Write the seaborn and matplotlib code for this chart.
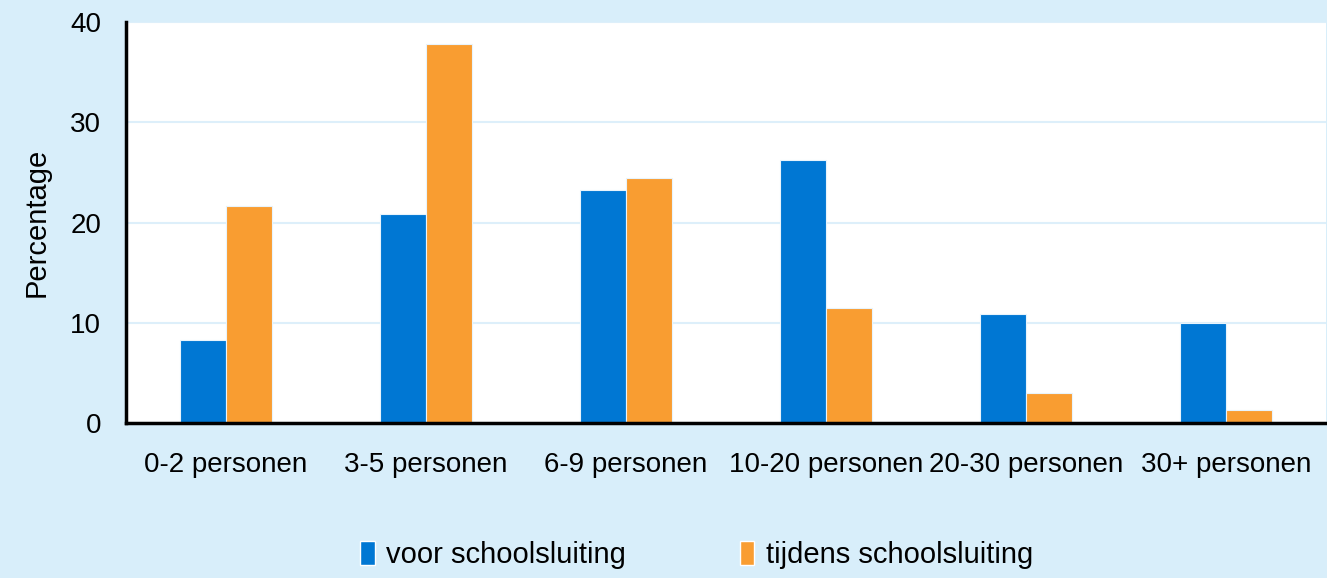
import seaborn as sns
import pandas as pd
import matplotlib.pyplot as plt

# data
groups = ["0-2 personen", "3-5 personen", "6-9 personen",
          "10-20 personen", "20-30 personen", "30+ personen"]
voor = [8.3, 20.9, 23.2, 26.2, 10.9, 10.0]
tijdens = [21.6, 37.8, 24.4, 11.5, 3.0, 1.3]
series = ["voor schoolsluiting", "tijdens schoolsluiting"]
colors = {"voor schoolsluiting": "#0077D3", "tijdens schoolsluiting": "#F99D31"}

df = pd.DataFrame({
    "groep": groups * 2,
    "Percentage": voor + tijdens,
    "periode": [series[0]] * len(groups) + [series[1]] * len(groups),
})

sns.set_theme(style="white")
plt.rcParams["font.family"] = ["Liberation Sans", "DejaVu Sans"]
plt.rcParams["text.color"] = "black"
plt.rcParams["axes.labelcolor"] = "black"

bg = "#D8EEFA"
fig = plt.figure(figsize=(13.27, 5.78), dpi=100, facecolor=bg)
ax = fig.add_axes([0.095, 0.268, 0.904, 0.694])
ax.set_facecolor("white")

sns.barplot(data=df, x="groep", y="Percentage", hue="periode", palette=colors,
            saturation=1, width=0.46, edgecolor="#E8F4FC", linewidth=0.8,
            ax=ax, legend=False)

ax.set_ylim(0, 40)
ax.set_xlim(-0.5, 5.5)
ax.set_yticks([0, 10, 20, 30, 40])
ax.yaxis.grid(True, color="#DDEFFA", linewidth=1.5)
ax.set_axisbelow(True)
for s in ["top", "right"]:
    ax.spines[s].set_visible(False)
for s in ["left", "bottom"]:
    ax.spines[s].set_color("black")
    ax.spines[s].set_linewidth(2.5)
ax.tick_params(axis="y", labelsize=20, colors="black", length=0, pad=18)
ax.tick_params(axis="x", labelsize=20, colors="black", length=0, pad=21)
ax.set_xlabel("")
ax.set_ylabel("Percentage", fontsize=21, labelpad=14)

handles = [plt.Rectangle((0, 0), 1, 1, facecolor=colors[s], edgecolor="white") for s in series]
fig.legend(handles, series, loc="center", bbox_to_anchor=(0.525, 0.04), ncol=2,
           frameon=False, fontsize=21, handlelength=0.5, handleheight=0.9,
           handletextpad=0.4, columnspacing=3.9)

fig.savefig("out.png", dpi=100, facecolor=bg)
